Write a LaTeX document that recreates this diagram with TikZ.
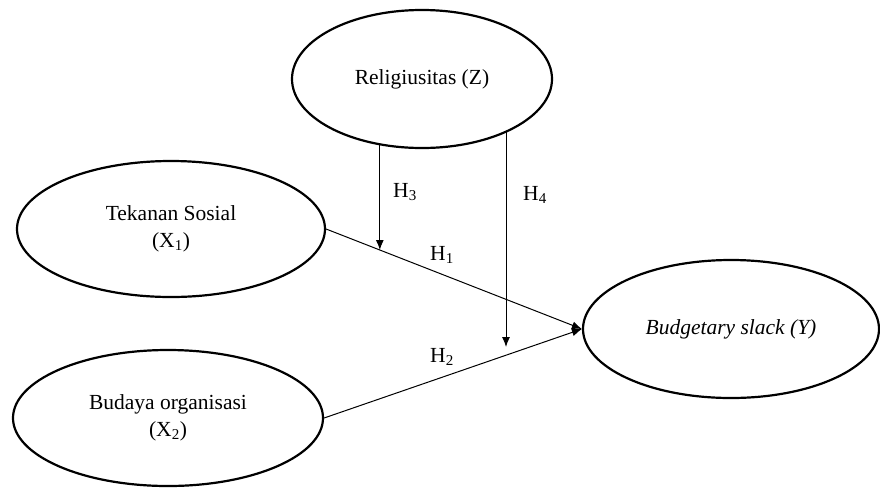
\documentclass[tikz,border=0pt]{standalone}
\usepackage{fontspec}
\setmainfont{Liberation Serif}
\usetikzlibrary{shapes.geometric}
\usetikzlibrary{arrows.meta}
\usetikzlibrary{calc}
\usetikzlibrary{backgrounds}

\begin{document}
\begin{tikzpicture}[x=1pt, y=-1pt, font=\fontsize{21.5}{27}\selectfont,
    var/.style={ellipse, draw, line width=2.2pt, fill=white, inner sep=0pt, align=center},
    link/.style={line width=1pt, -{Latex[length=10pt,width=8pt]}}]
    
    \useasboundingbox (0,0) rectangle (880,488);
    
    \node[var, minimum width=260, minimum height=138] (rel) at (422,79) {Religiusitas (Z)};
    \node[var, minimum width=308, minimum height=136] (tek) at (171,229) {Tekanan Sosial\\(X\textsubscript{1})};
    \node[var, minimum width=310, minimum height=136] (bo) at (168,418) {Budaya organisasi\\(X\textsubscript{2})};
    \node[var, minimum width=296, minimum height=138] (bud) at (731,329) {\itshape Budgetary slack (Y)};
    
    \draw[link] (tek.east) -- (bud.west);
    \draw[link] (bo.east) -- (bud.west);
    
    \coordinate (h3end) at ($(tek.east)!0.21!(bud.west)$);
    \coordinate (h4end) at (506,347);
    
    \begin{pgfonlayer}{background}
    \draw[link] (h3end |- rel.center) -- (h3end);
    \draw[link] (h4end |- rel.center) -- (h4end);
    \end{pgfonlayer}
    
    \node (h1) at (442,255) {H\textsubscript{1}};
    \node (h2) at (442,357) {H\textsubscript{2}};
    \node (h3) at (405,192) {H\textsubscript{3}};
    \node (h4) at (535,195) {H\textsubscript{4}};
\end{tikzpicture}
\end{document}
